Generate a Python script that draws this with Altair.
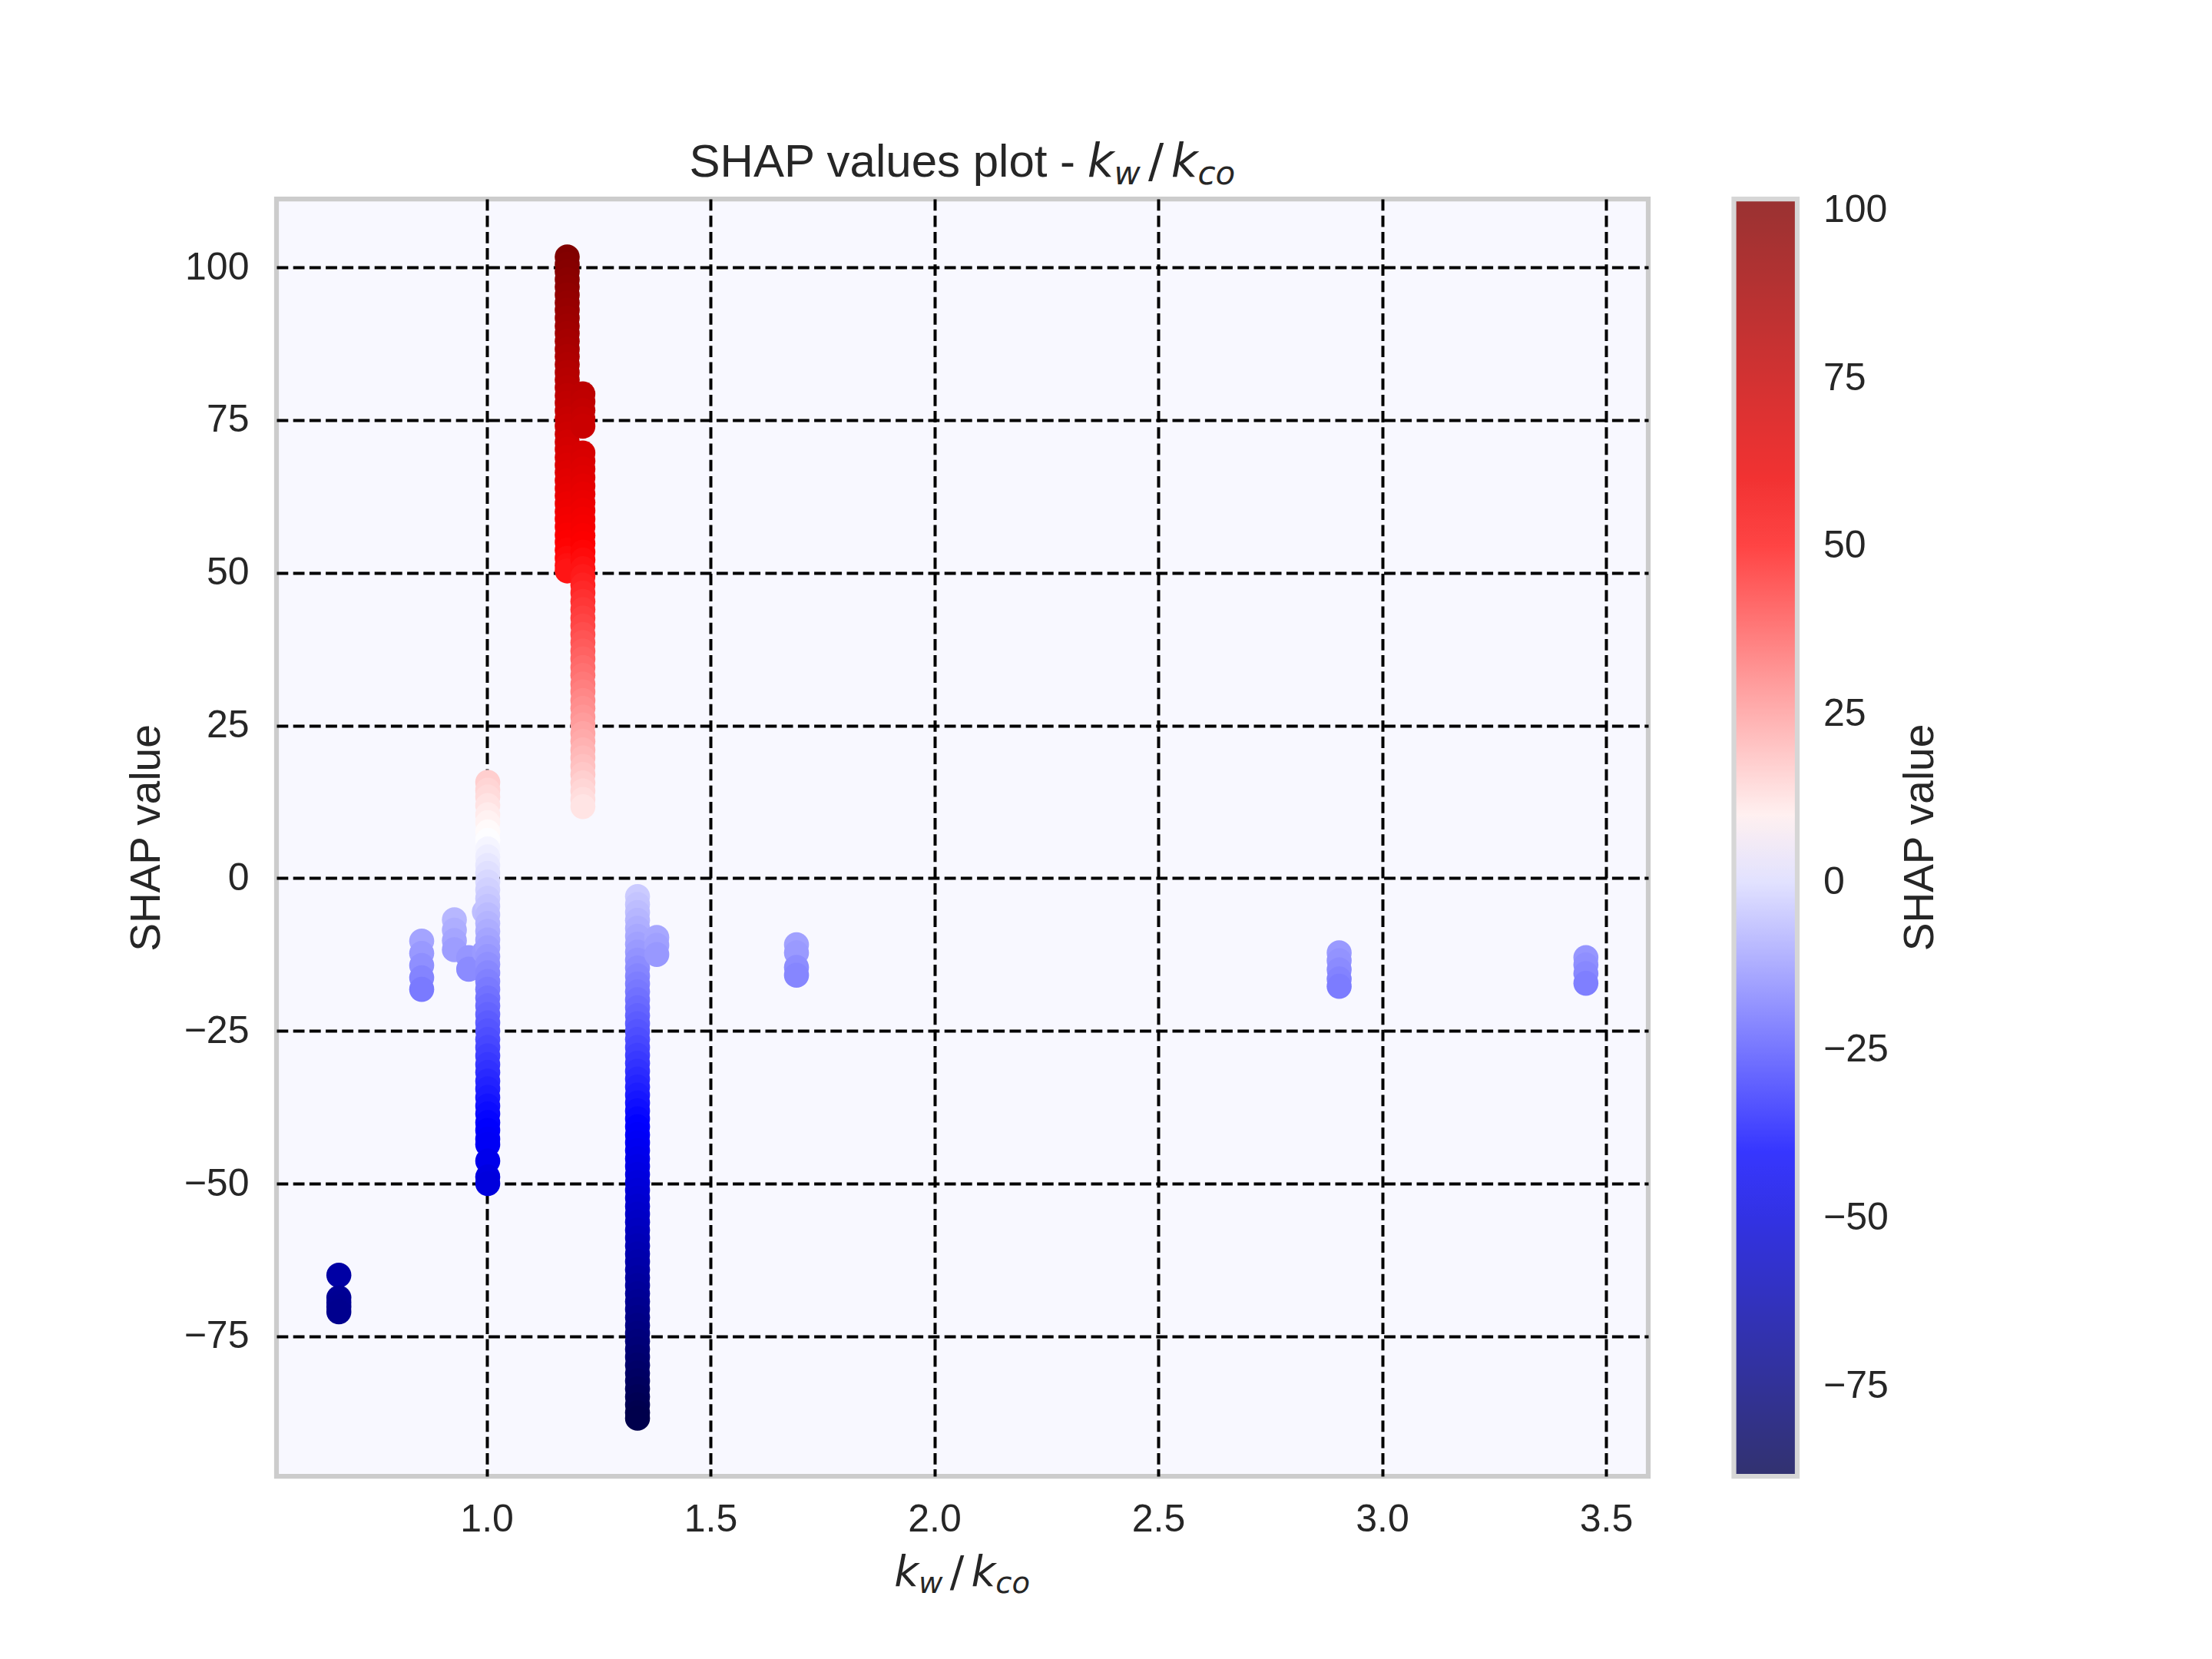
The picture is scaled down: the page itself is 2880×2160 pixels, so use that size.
import altair as alt
import pandas as pd

# ---- data (x = k_w / k_co, y = SHAP value) ----
x_positions = [0.670, 0.855, 0.928, 0.960, 0.995, 1.0025, 1.180, 1.215, 1.337, 1.380, 1.692, 2.904, 3.455]

shap_a = [-65.0, -68.7, -69.5, -70.2, -71.0]
shap_b = [-10.3, -12.3, -14.3, -16.3, -18.2]
shap_c = [-6.8, -8.5, -10.2, -11.7]
shap_d = [-13.0, -14.9]
shap_d2 = [-5.5, -12.1]
shap_e = [15.7, 14.4, 13.3, 11.9, 10.4, 9.1, 7.6, 6.2, 4.8, 3.5, 2.1, 0.8, -0.6, -1.9,
          -3.3, -4.6, -6.0, -7.4, -8.7, -10.1, -11.4, -12.8, -14.1, -15.5, -16.9, -18.2,
          -19.6, -20.9, -22.3, -23.7, -25.0, -26.4, -27.7, -29.1, -30.5, -31.8, -33.2,
          -34.5, -35.9, -37.3, -38.6, -40.0, -41.3, -42.7, -43.6, -46.3, -48.9, -50.0]
shap_f = [101.7, 100.5, 99.3, 98.0, 96.8, 95.5, 94.2, 93.0, 91.7, 90.4, 89.2, 87.9, 86.6,
          85.4, 84.1, 82.8, 81.6, 80.3, 79.0, 77.8, 76.5, 75.2, 74.0, 72.7, 71.4, 70.2,
          68.9, 67.6, 66.4, 65.1, 63.8, 62.6, 61.3, 60.0, 58.8, 57.5, 56.2, 55.0, 53.7,
          52.4, 51.2, 50.3]
shap_g = [79.3, 78.0, 76.6, 75.2, 74.0, 69.6, 68.3, 67.0, 65.6, 64.2, 62.9, 61.5, 60.2,
          58.8, 57.5, 56.1, 54.8, 53.4, 52.1, 50.7, 49.4, 48.0, 46.7, 45.3, 44.0, 42.6,
          41.3, 39.9, 38.6, 37.2, 35.9, 34.5, 33.2, 31.8, 30.5, 29.1, 27.8, 26.4, 25.1,
          23.7, 22.4, 21.0, 19.7, 18.3, 17.0, 15.6, 14.3, 12.9, 11.7]
shap_h = [-3.0, -4.3, -5.6, -6.9, -8.2, -9.5, -10.8, -12.1, -13.4, -14.7, -16.0, -17.3,
          -18.6, -19.9, -21.2, -22.5, -23.8, -25.1, -26.4, -27.7, -29.0, -30.3, -31.6,
          -32.9, -34.2, -35.5, -36.8, -38.1, -39.4, -40.7, -42.0, -43.3, -44.6, -45.9,
          -47.2, -48.5, -49.8, -51.1, -52.4, -53.7, -55.0, -56.3, -57.6, -58.9, -60.2,
          -61.5, -62.8, -64.1, -65.4, -66.7, -68.0, -69.3, -70.6, -71.9, -73.2, -74.5,
          -75.8, -77.1, -78.4, -79.7, -81.0, -82.3, -83.6, -84.9, -86.2, -87.5, -88.4]
shap_i = [-9.7, -11.0, -12.5]
shap_j = [-10.9, -12.2, -14.6, -15.9]
shap_k = [-12.2, -13.5, -15.0, -16.5, -17.7]
shap_l = [-13.0, -14.2, -15.6, -17.2]

groups = [shap_a, shap_b, shap_c, shap_d, shap_d2, shap_e, shap_f, shap_g,
          shap_h, shap_i, shap_j, shap_k, shap_l]

x_ticks = [1.0, 1.5, 2.0, 2.5, 3.0, 3.5]
y_ticks = [-75, -50, -25, 0, 25, 50, 75, 100]
cbar_ticks = [-75, -50, -25, 0, 25, 50, 75, 100]

# seismic colormap stops
seismic_colors = ["#00004c", "#0000ff", "#ffffff", "#ff0000", "#800000"]

rows = []
for xv, ys in zip(x_positions, groups):
    for yv in ys:
        rows.append({"ratio": xv, "shap": yv})
df = pd.DataFrame(rows)

vmin = df["shap"].min()
vmax = df["shap"].max()
span = vmax - vmin
color_domain = [vmin + span * f for f in (0.0, 0.25, 0.5, 0.75, 1.0)]

xmin, xmax = df["ratio"].min(), df["ratio"].max()
xpad = (xmax - xmin) * 0.05
ypad = span * 0.05

FONT = "Liberation Sans"
MATH = "DejaVu Sans"
TXT = "#262626"
MINUS = "replace(datum.label, '-', '\u2212')"

W, H = 1786, 1663

points = alt.Chart(df).mark_circle(size=1060, opacity=1).encode(
    x=alt.X("ratio:Q",
            scale=alt.Scale(domain=[xmin - xpad, xmax + xpad], nice=False, zero=False),
            axis=alt.Axis(values=x_ticks, format=".1f", title=None, labelFlush=False,
                          labelPadding=31, labelExpr=MINUS)),
    y=alt.Y("shap:Q",
            scale=alt.Scale(domain=[vmin - ypad, vmax + ypad], nice=False, zero=False),
            axis=alt.Axis(values=y_ticks, title="SHAP value", labelFlush=False,
                          labelPadding=36, labelExpr=MINUS,
                          titleX=-153, titleY=H / 2, titleAngle=270,
                          titleAlign="center", titleBaseline="alphabetic")),
    color=alt.Color("shap:Q",
                    scale=alt.Scale(domain=color_domain, range=seismic_colors,
                                    interpolate="rgb"),
                    legend=alt.Legend(orient="none", legendX=1897.5, legendY=0,
                                      direction="vertical", title=None,
                                      values=cbar_ticks, labelExpr=MINUS,
                                      gradientLength=H, gradientThickness=82.5,
                                      gradientStrokeColor="#cccccc",
                                      gradientStrokeWidth=6.25, gradientOpacity=0.8,
                                      labelFont=FONT, labelFontSize=50, labelColor=TXT,
                                      labelOffset=34, labelOverlap=False, padding=0)),
)


def piece(text, x, y, size, font=FONT, style="normal", angle=0, align="left"):
    return alt.Chart(alt.Data(values=[{}])).mark_text(
        text=text, font=font, fontSize=size, fontStyle=style, color=TXT,
        align=align, baseline="alphabetic", angle=angle,
    ).encode(x=alt.value(x), y=alt.value(y))


# title: "SHAP values plot - k_w / k_co"
tb, ts = -29, -19
title_layers = [
    piece("SHAP values plot - ", 537.6, tb, 60),
    piece("k", 1055.7, tb, 60, MATH, "italic"),
    piece("w", 1090.4, ts, 42, MATH, "italic"),
    piece("/", 1134.9, tb, 60, MATH),
    piece("k", 1164.7, tb, 60, MATH, "italic"),
    piece("co", 1199.4, ts, 42, MATH, "italic"),
]

# x-axis label: k_w / k_co
xb, xs = 1806, 1815
xlabel_layers = [
    piece("k", 804.3, xb, 55, MATH, "italic"),
    piece("w", 836.1, xs, 38.5, MATH, "italic"),
    piece("/", 876.8, xb, 55, MATH),
    piece("k", 904.5, xb, 55, MATH, "italic"),
    piece("co", 936.3, xs, 38.5, MATH, "italic"),
]

cbar_label = piece("SHAP value", 2157, H / 2, 55, angle=270, align="center")

chart = alt.layer(points, *title_layers, *xlabel_layers, cbar_label).properties(
    width=W, height=H,
    autosize=alt.AutoSizeParams(type="none"),
    padding={"left": 352, "top": 251, "right": 726, "bottom": 230},
).configure(
    background="white",
).configure_view(
    fill="#f8f8ff", stroke="#cccccc", strokeWidth=6.25,
).configure_axis(
    grid=True, gridColor="black", gridDash=[14.8, 6.4], gridWidth=4, gridOpacity=1,
    domain=False, ticks=False,
    labelFont=FONT, labelFontSize=50, labelColor=TXT,
    titleFont=FONT, titleFontSize=55, titleColor=TXT, titleFontWeight="normal",
)

chart.save("out.html", embed_options={"renderer": "svg", "actions": False})
